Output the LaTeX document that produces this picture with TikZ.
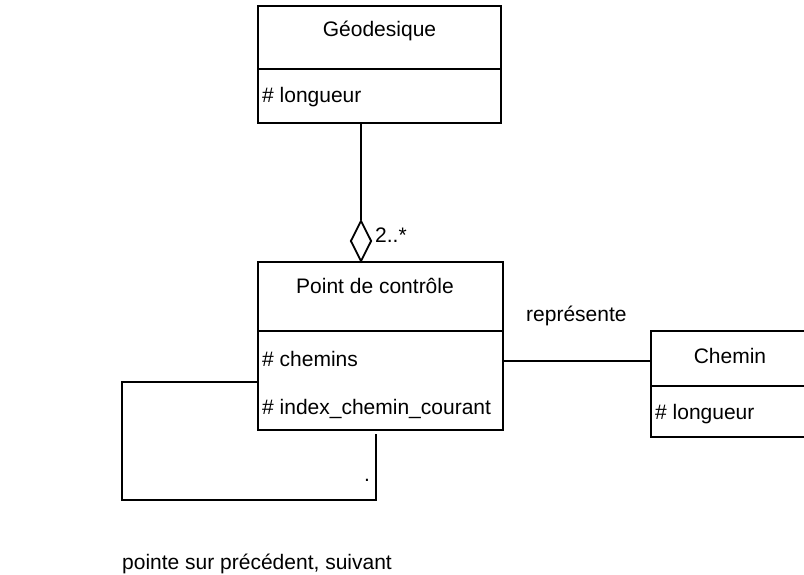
\documentclass[tikz,border=0pt]{standalone}
\usepackage{fontspec}
\setmainfont{Liberation Sans}
\usetikzlibrary{shapes.geometric,calc}
\begin{document}
\begin{tikzpicture}[x=1pt,y=-1pt,
  umlbox/.style={draw,line width=1.8pt,rectangle,inner sep=0pt,minimum width=#1},
  conn/.style={line width=1.8pt},
  lbl/.style={inner sep=0pt,font=\fontsize{21}{25}\selectfont}]
\useasboundingbox (0,0) rectangle (804,575);
\clip (0,0) rectangle (804,575);
% classes
\node[umlbox=243pt,minimum height=117pt] (geo) at (379.5,64.5) {};
\draw[conn] (geo.west |- 0,69) -- (geo.east |- 0,69);
\node[lbl,anchor=base] (geot) at (379.5,37) {Géodesique};
\node[lbl,anchor=base west] (geoa) at (262,103) {\# longueur};

\node[umlbox=245pt,minimum height=168pt] (pdc) at (380.5,346) {};
\draw[conn] (pdc.west |- 0,331) -- (pdc.east |- 0,331);
\node[lbl,anchor=base] (pdct) at (375,293) {Point de contrôle};
\node[lbl,anchor=base west] (pdca) at (262,366) {\# chemins};
\node[lbl,anchor=base west] (pdcb) at (262,414) {\# index\_chemin\_courant};

\node[umlbox=161pt,minimum height=106pt] (ch) at (731.5,384) {};
\draw[conn] (ch.west |- 0,386) -- (ch.east |- 0,386);
\node[lbl,anchor=base] (cht) at (730,363) {Chemin};
\node[lbl,anchor=base west] (cha) at (655,419) {\# longueur};

% aggregation
\node[draw,conn,shape=diamond,inner sep=0pt,minimum width=21pt,minimum height=41pt] (dia) at (361,241) {};
\draw[conn] (dia.north) -- (dia.north |- geo.south);
\node[lbl,anchor=base west] (mult) at (375,243) {2..*};

% association
\draw[conn] ([yshift=-15pt]pdc.east) -- ([yshift=-15pt]pdc.east -| ch.west);
\node[lbl,anchor=base west] (rep) at (526,321) {représente};

% self loop
\coordinate (lc) at (122,500);
\draw[conn] ([yshift=-36pt]pdc.west) -| (lc) -| ([xshift=-4.5pt,yshift=-3pt]pdc.south);
\node[lbl,anchor=base] (dot) at (367,481) {.};
\node[lbl,anchor=base west] (selft) at (122,569) {pointe sur précédent, suivant};
\end{tikzpicture}
\end{document}
